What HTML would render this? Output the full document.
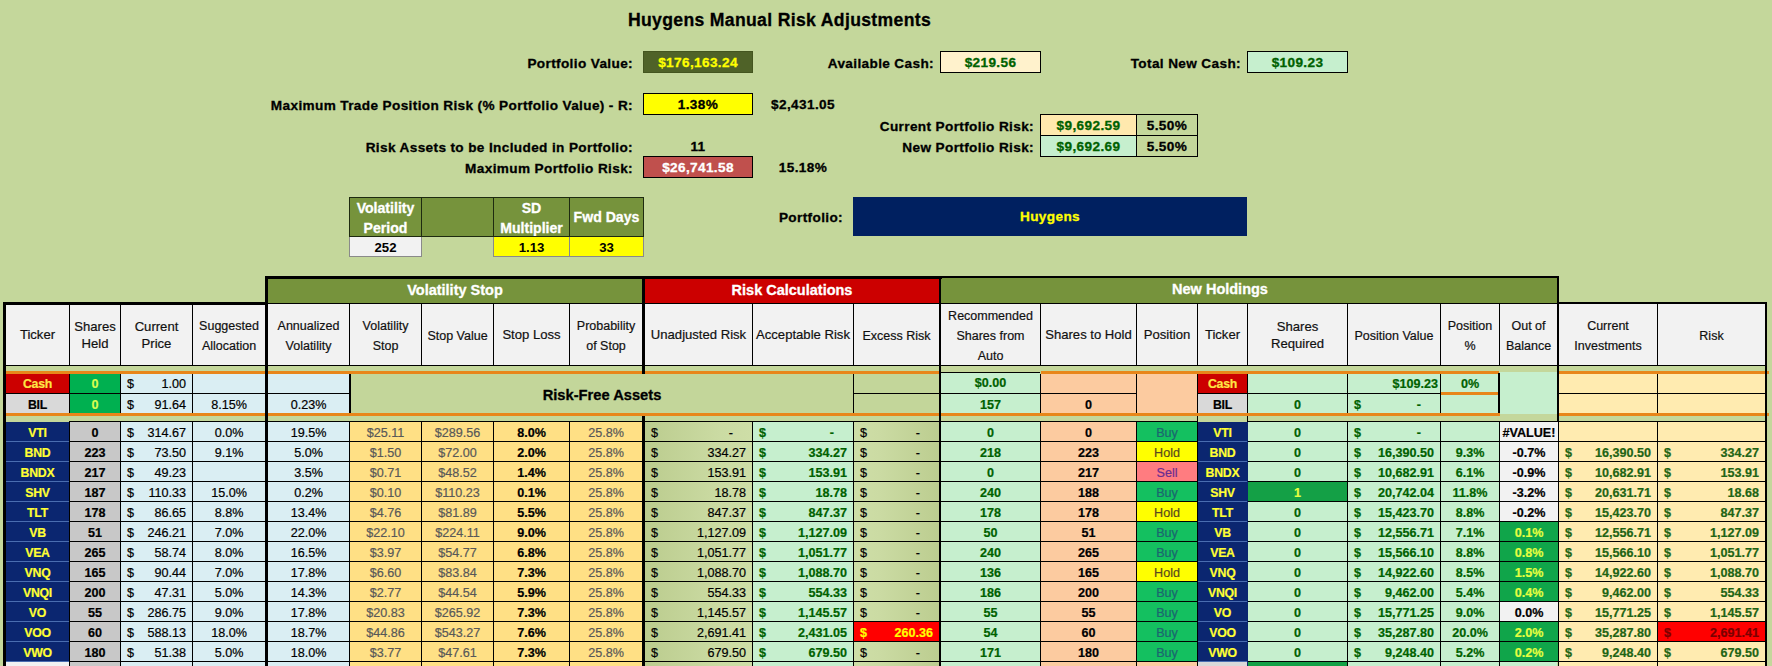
<!DOCTYPE html>
<html><head><meta charset="utf-8"><title>Huygens Manual Risk Adjustments</title><style>
html,body{margin:0;padding:0}
body{width:1772px;height:666px;overflow:hidden;background:#C4D79B;position:relative;font-family:"Liberation Sans",sans-serif}
div{position:absolute;box-sizing:content-box;white-space:nowrap;overflow:hidden}
.lab{font-weight:bold;letter-spacing:0.37px;overflow:visible}
.vb{font-weight:bold;text-align:center;letter-spacing:0.37px}
.mh{background:#76933C;border:1px solid #1e2a10;color:#fff;font-weight:bold;font-size:14.1px;display:flex;align-items:center;justify-content:center;text-align:center;line-height:20px;margin:-1px 0 0 0;padding:0}
.mh span{display:block}.mh span.two{padding-top:2px}
.mv{border:1px solid #8a8a8a;border-top:none;font-weight:bold;font-size:13.2px;text-align:center;line-height:21px;margin-left:0;padding-right:0}
.gh{color:#fff;font-weight:bold;font-size:14.5px;text-align:center;line-height:22px}
.ch{display:flex;align-items:center;justify-content:center;text-align:center;font-size:12.5px;line-height:20px;color:#111;padding-top:2px;margin-top:-1px}
.ch span{display:block}.ch.t{line-height:17px;font-size:13.1px;padding-top:0;margin-top:0}
.c,.a,.r{font-size:12.6px;line-height:22px;color:#000}
.c{text-align:center}
.r{text-align:right;padding-right:2px;margin-left:-2px}
.b{font-weight:bold}.tk{font-size:12.3px;letter-spacing:-0.25px}
.g{color:#585858}
.a i{font-style:normal;position:absolute;top:0}
.a .d{left:6px}
.a .n{right:6px}
.a .m{right:19px}
.lab,.vb,.mh,.gh,.rfa{-webkit-text-stroke:0.3px}
.c,.a,.r,.ch{-webkit-text-stroke:0.2px}
.rfa{font-weight:bold;font-size:14.7px;text-align:center;line-height:42px;color:#000}
</style></head><body>
<div class="lab" style="left:579.5px;width:400px;text-align:center;top:10px;height:20px;line-height:20px;font-size:17.6px;color:#000;letter-spacing:0.34px;">Huygens Manual Risk Adjustments</div>
<div class="lab" style="right:1139px;top:53.5px;height:20px;line-height:20px;font-size:13.6px;color:#000;">Portfolio Value:</div>
<div class="vb" style="left:643px;top:51px;width:108px;height:20px;line-height:22px;background:#4F6228;border:1px solid #44551f;color:#FFFF00;font-size:13.6px;">$176,163.24</div>
<div class="lab" style="right:838px;top:53.5px;height:20px;line-height:20px;font-size:13.6px;color:#000;">Available Cash:</div>
<div class="vb" style="left:940px;top:51px;width:99px;height:20px;line-height:22px;background:#FFF2CC;border:1px solid #000;color:#006100;font-size:13.6px;">$219.56</div>
<div class="lab" style="right:531px;top:53.5px;height:20px;line-height:20px;font-size:13.6px;color:#000;">Total New Cash:</div>
<div class="vb" style="left:1247px;top:51px;width:99px;height:20px;line-height:22px;background:#C6EFCE;border:1px solid #000;color:#006100;font-size:13.6px;">$109.23</div>
<div class="lab" style="right:1139px;top:95.5px;height:20px;line-height:20px;font-size:13.6px;color:#000;">Maximum Trade Position Risk (% Portfolio Value) - R:</div>
<div class="vb" style="left:643px;top:93px;width:108px;height:20px;line-height:22px;background:#FFFF00;border:1px solid #000;color:#000;font-size:13.6px;">1.38%</div>
<div class="lab" style="left:603px;width:400px;text-align:center;top:95px;height:20px;line-height:20px;font-size:13.6px;color:#000;">$2,431.05</div>
<div class="lab" style="right:738px;top:116.5px;height:20px;line-height:20px;font-size:13.6px;color:#000;">Current Portfolio Risk:</div>
<div class="lab" style="right:738px;top:137.5px;height:20px;line-height:20px;font-size:13.6px;color:#000;">New Portfolio Risk:</div>
<div class="vb" style="left:1040px;top:114px;width:95px;height:20px;line-height:22px;background:#FFE9AE;border:1px solid #000;color:#006100;font-size:13.6px;">$9,692.59</div>
<div class="vb" style="left:1136px;top:114px;width:60px;height:20px;line-height:22px;background:#C4D79B;border:1px solid #000;color:#000;font-size:13.6px;">5.50%</div>
<div class="vb" style="left:1040px;top:135px;width:95px;height:20px;line-height:22px;background:#C6EFCE;border:1px solid #000;color:#006100;font-size:13.6px;">$9,692.69</div>
<div class="vb" style="left:1136px;top:135px;width:60px;height:20px;line-height:22px;background:#C4D79B;border:1px solid #000;color:#000;font-size:13.6px;">5.50%</div>
<div class="lab" style="right:1139px;top:137.5px;height:20px;line-height:20px;font-size:13.6px;color:#000;">Risk Assets to be Included in Portfolio:</div>
<div class="lab" style="left:498px;width:400px;text-align:center;top:137px;height:20px;line-height:20px;font-size:13.6px;color:#000;">11</div>
<div class="lab" style="right:1139px;top:158.5px;height:20px;line-height:20px;font-size:13.6px;color:#000;">Maximum Portfolio Risk:</div>
<div class="vb" style="left:643px;top:156px;width:108px;height:20px;line-height:22px;background:#C0504D;border:1px solid #000;color:#fff;font-size:13.6px;">$26,741.58</div>
<div class="lab" style="left:603px;width:400px;text-align:center;top:158px;height:20px;line-height:20px;font-size:13.6px;color:#000;">15.18%</div>
<div class="mh" style="left:349px;top:198px;width:71px;height:38px;"><span class=two>Volatility<br>Period</span></div>
<div class="mh" style="left:421px;top:198px;width:71px;height:38px;"><span></span></div>
<div class="mh" style="left:493px;top:198px;width:75px;height:38px;"><span class=two>SD<br>Multiplier</span></div>
<div class="mh" style="left:569px;top:198px;width:73px;height:38px;"><span>Fwd Days</span></div>
<div class="mv" style="left:349px;top:237px;width:71px;height:19px;background:#F2F2F2">252</div>
<div class="mv" style="left:493px;top:237px;width:75px;height:19px;background:#FFFF00">1.13</div>
<div class="mv" style="left:569px;top:237px;width:73px;height:19px;background:#FFFF00">33</div>
<div class="lab" style="right:929px;top:207.5px;height:20px;line-height:20px;font-size:13.6px;color:#000;">Portfolio:</div>
<div class="vb" style="left:853px;top:197px;width:394px;height:39px;line-height:39px;background:#002060;color:#FFFF00;font-size:13.6px">Huygens</div>
<div class="gh" style="left:268px;top:279px;width:374px;height:24px;background:#76933C;">Volatility Stop</div>
<div class="gh" style="left:645px;top:279px;width:294px;height:24px;background:#CC0000;">Risk Calculations</div>
<div class="gh" style="left:941px;top:278px;width:616px;height:25px;background:#76933C;text-indent:-58px;">New Holdings</div>
<div class="ch t" style="left:6px;top:304px;width:63px;height:61px;background:#F2F2F2;"><span>Ticker</span></div>
<div class="ch t" style="left:70px;top:304px;width:50px;height:61px;background:#F2F2F2;"><span>Shares<br>Held</span></div>
<div class="ch t" style="left:121px;top:304px;width:71px;height:61px;background:#F2F2F2;"><span>Current<br>Price</span></div>
<div class="ch" style="left:193px;top:304px;width:72px;height:61px;background:#F2F2F2;"><span>Suggested<br>Allocation</span></div>
<div class="ch" style="left:268px;top:304px;width:81px;height:61px;background:#F2F2F2;"><span>Annualized<br>Volatility</span></div>
<div class="ch" style="left:350px;top:304px;width:71px;height:61px;background:#F2F2F2;"><span>Volatility<br>Stop</span></div>
<div class="ch" style="left:422px;top:304px;width:71px;height:61px;background:#F2F2F2;"><span>Stop Value</span></div>
<div class="ch t" style="left:494px;top:304px;width:75px;height:61px;background:#F2F2F2;"><span>Stop Loss</span></div>
<div class="ch" style="left:570px;top:304px;width:72px;height:61px;background:#F2F2F2;"><span>Probability<br>of Stop</span></div>
<div class="ch t" style="left:645px;top:304px;width:107px;height:61px;background:#F2F2F2;"><span>Unadjusted Risk</span></div>
<div class="ch t" style="left:753px;top:304px;width:100px;height:61px;background:#F2F2F2;"><span>Acceptable Risk</span></div>
<div class="ch" style="left:854px;top:304px;width:85px;height:61px;background:#F2F2F2;"><span>Excess Risk</span></div>
<div class="ch" style="left:941px;top:304px;width:99px;height:61px;background:#F2F2F2;"><span>Recommended<br>Shares from<br>Auto</span></div>
<div class="ch t" style="left:1041px;top:304px;width:95px;height:61px;background:#F2F2F2;"><span>Shares to Hold</span></div>
<div class="ch t" style="left:1137px;top:304px;width:60px;height:61px;background:#F2F2F2;"><span>Position</span></div>
<div class="ch t" style="left:1198px;top:304px;width:49px;height:61px;background:#F2F2F2;"><span>Ticker</span></div>
<div class="ch t" style="left:1248px;top:304px;width:99px;height:61px;background:#F2F2F2;"><span>Shares<br>Required</span></div>
<div class="ch" style="left:1348px;top:304px;width:92px;height:61px;background:#F2F2F2;"><span>Position Value</span></div>
<div class="ch" style="left:1441px;top:304px;width:58px;height:61px;background:#F2F2F2;"><span>Position<br>%</span></div>
<div class="ch" style="left:1500px;top:304px;width:57px;height:61px;background:#F2F2F2;"><span>Out of<br>Balance</span></div>
<div class="ch" style="left:1559px;top:304px;width:98px;height:61px;background:#F2F2F2;"><span>Current<br>Investments</span></div>
<div class="ch" style="left:1658px;top:304px;width:107px;height:61px;background:#F2F2F2;"><span>Risk</span></div>
<div class="c b tk" style="left:6px;top:374px;width:63px;height:19px;background:#CC0000;color:#FFE545;line-height:20px;">Cash</div>
<div class="c b" style="left:70px;top:374px;width:50px;height:19px;background:#00B050;color:#D8FF4F;line-height:20px;">0</div>
<div class="a" style="left:121px;top:374px;width:71px;height:19px;background:#DAEEF3;line-height:20px;"><i class="d">$</i><i class="n">1.00</i></div>
<div style="left:193px;top:374px;width:72px;height:19px;background:#DAEEF3;"></div>
<div style="left:268px;top:374px;width:81px;height:19px;background:#DAEEF3;"></div>
<div style="left:854px;top:374px;width:85px;height:19px;background:#C3D69A;"></div>
<div class="c b" style="left:941px;top:373px;width:99px;height:20px;background:#C6EFCE;color:#006100;line-height:20px;">$0.00</div>
<div class="l" style="left:941px;top:372px;width:99px;height:1px;background:#000"></div>
<div style="left:1041px;top:374px;width:95px;height:19px;background:#FCCBA0;"></div>
<div style="left:1137px;top:374px;width:60px;height:39px;background:#FCCBA0;"></div>
<div class="c b tk" style="left:1198px;top:374px;width:49px;height:19px;background:#CC0000;color:#FFE545;line-height:20px;">Cash</div>
<div style="left:1248px;top:374px;width:99px;height:19px;background:#C6EFCE;"></div>
<div class="r b" style="left:1348px;top:374px;width:92px;height:19px;background:#C6EFCE;color:#006100;line-height:20px;">$109.23</div>
<div class="c b" style="left:1441px;top:374px;width:58px;height:19px;background:#C6EFCE;color:#006100;line-height:20px;">0%</div>
<div style="left:1500px;top:372px;width:57px;height:42px;background:#C6EFCE;"></div>
<div style="left:1559px;top:374px;width:98px;height:19px;background:#FFEBB0;"></div>
<div style="left:1658px;top:374px;width:107px;height:19px;background:#FFEBB0;"></div>
<div class="c b tk" style="left:6px;top:394px;width:63px;height:19px;background:#D9D9D9;">BIL</div>
<div class="c b" style="left:70px;top:394px;width:50px;height:19px;background:#00B050;color:#D8FF4F">0</div>
<div class="a" style="left:121px;top:394px;width:71px;height:19px;background:#DAEEF3;"><i class="d">$</i><i class="n">91.64</i></div>
<div class="c" style="left:193px;top:394px;width:72px;height:19px;background:#DAEEF3;">8.15%</div>
<div class="c" style="left:268px;top:394px;width:81px;height:19px;background:#DAEEF3;">0.23%</div>
<div style="left:854px;top:394px;width:85px;height:19px;background:#C3D69A;"></div>
<div class="c b" style="left:941px;top:394px;width:99px;height:19px;background:#C6EFCE;color:#006100">157</div>
<div class="c b" style="left:1041px;top:394px;width:95px;height:19px;background:#FCCBA0;">0</div>
<div class="c b tk" style="left:1198px;top:394px;width:49px;height:19px;background:#D9D9D9;">BIL</div>
<div class="c b" style="left:1248px;top:394px;width:99px;height:19px;background:#C6EFCE;color:#006100">0</div>
<div class="a b" style="left:1348px;top:394px;width:92px;height:19px;background:#C6EFCE;color:#006100"><i class="d">$</i><i class="m">-</i></div>
<div style="left:1441px;top:394px;width:58px;height:19px;background:#C6EFCE;"></div>
<div style="left:1559px;top:394px;width:98px;height:19px;background:#FFEBB0;"></div>
<div style="left:1658px;top:394px;width:107px;height:19px;background:#FFEBB0;"></div>
<div class="rfa" style="left:351px;top:374px;width:502px;height:39px;background:#C3D69A;">Risk-Free Assets</div>
<div class="c b tk" style="left:6px;top:422px;width:63px;height:19px;background:#0B2670;color:#FFFF33">VTI</div>
<div class="c b" style="left:70px;top:422px;width:50px;height:19px;background:#C8C8C8;">0</div>
<div class="a" style="left:121px;top:422px;width:71px;height:19px;background:#DAEEF3;"><i class="d">$</i><i class="n">314.67</i></div>
<div class="c" style="left:193px;top:422px;width:72px;height:19px;background:#DAEEF3;">0.0%</div>
<div class="c" style="left:268px;top:422px;width:81px;height:19px;background:#DAEEF3;">19.5%</div>
<div class="c g" style="left:350px;top:422px;width:71px;height:19px;background:#FFE085;">$25.11</div>
<div class="c g" style="left:422px;top:422px;width:71px;height:19px;background:#FFE085;">$289.56</div>
<div class="c b" style="left:494px;top:422px;width:75px;height:19px;background:#FFE085;">8.0%</div>
<div class="c g" style="left:570px;top:422px;width:72px;height:19px;background:#FFE085;">25.8%</div>
<div class="a ar" style="left:645px;top:422px;width:107px;height:19px;background:linear-gradient(90deg,#bbcc8e,#cbdba3 70%,#cedea7);"><i class="d">$</i><i class="m">-</i></div>
<div class="a b" style="left:753px;top:422px;width:100px;height:19px;background:#C6EFCE;color:#006100"><i class="d">$</i><i class="m">-</i></div>
<div class="a" style="left:854px;top:422px;width:85px;height:19px;background:linear-gradient(90deg,#cedea7,#cbdba3 30%,#bccd90);"><i class="d">$</i><i class="m">-</i></div>
<div class="c b" style="left:941px;top:422px;width:99px;height:19px;background:#C6EFCE;color:#006100">0</div>
<div class="c b" style="left:1041px;top:422px;width:95px;height:19px;background:#FCCBA0;">0</div>
<div class="c" style="left:1137px;top:422px;width:60px;height:19px;background:#14C060;color:#1C6670">Buy</div>
<div class="c b tk" style="left:1198px;top:422px;width:49px;height:19px;background:#0B2670;color:#FFFF33">VTI</div>
<div class="c b" style="left:1248px;top:422px;width:99px;height:19px;background:#C6EFCE;color:#006100">0</div>
<div class="a b" style="left:1348px;top:422px;width:92px;height:19px;background:#C6EFCE;color:#006100"><i class="d">$</i><i class="m">-</i></div>
<div class="c b" style="left:1441px;top:422px;width:58px;height:19px;background:#C6EFCE;color:#006100"></div>
<div class="c b" style="left:1500px;top:422px;width:58px;height:19px;background:#F2F2F2;">#VALUE!</div>
<div class="a b" style="left:1559px;top:422px;width:98px;height:19px;background:#FFEBB0;color:#1E6414"></div>
<div class="a b" style="left:1658px;top:422px;width:107px;height:19px;background:#FFEBB0;color:#1E6414"></div>
<div class="c b tk" style="left:6px;top:442px;width:63px;height:19px;background:#0B2670;color:#FFFF33">BND</div>
<div class="c b" style="left:70px;top:442px;width:50px;height:19px;background:#C8C8C8;">223</div>
<div class="a" style="left:121px;top:442px;width:71px;height:19px;background:#DAEEF3;"><i class="d">$</i><i class="n">73.50</i></div>
<div class="c" style="left:193px;top:442px;width:72px;height:19px;background:#DAEEF3;">9.1%</div>
<div class="c" style="left:268px;top:442px;width:81px;height:19px;background:#DAEEF3;">5.0%</div>
<div class="c g" style="left:350px;top:442px;width:71px;height:19px;background:#FFE085;">$1.50</div>
<div class="c g" style="left:422px;top:442px;width:71px;height:19px;background:#FFE085;">$72.00</div>
<div class="c b" style="left:494px;top:442px;width:75px;height:19px;background:#FFE085;">2.0%</div>
<div class="c g" style="left:570px;top:442px;width:72px;height:19px;background:#FFE085;">25.8%</div>
<div class="a ar" style="left:645px;top:442px;width:107px;height:19px;background:linear-gradient(90deg,#bbcc8e,#cbdba3 70%,#cedea7);"><i class="d">$</i><i class="n">334.27</i></div>
<div class="a b" style="left:753px;top:442px;width:100px;height:19px;background:#C6EFCE;color:#006100"><i class="d">$</i><i class="n">334.27</i></div>
<div class="a" style="left:854px;top:442px;width:85px;height:19px;background:linear-gradient(90deg,#cedea7,#cbdba3 30%,#bccd90);"><i class="d">$</i><i class="m">-</i></div>
<div class="c b" style="left:941px;top:442px;width:99px;height:19px;background:#C6EFCE;color:#006100">218</div>
<div class="c b" style="left:1041px;top:442px;width:95px;height:19px;background:#FCCBA0;">223</div>
<div class="c" style="left:1137px;top:442px;width:60px;height:19px;background:#FFFF00;color:#5a4a1e">Hold</div>
<div class="c b tk" style="left:1198px;top:442px;width:49px;height:19px;background:#0B2670;color:#FFFF33">BND</div>
<div class="c b" style="left:1248px;top:442px;width:99px;height:19px;background:#C6EFCE;color:#006100">0</div>
<div class="a b" style="left:1348px;top:442px;width:92px;height:19px;background:#C6EFCE;color:#006100"><i class="d">$</i><i class="n">16,390.50</i></div>
<div class="c b" style="left:1441px;top:442px;width:58px;height:19px;background:#C6EFCE;color:#006100">9.3%</div>
<div class="c b" style="left:1500px;top:442px;width:58px;height:19px;background:#F2F2F2;">-0.7%</div>
<div class="a b" style="left:1559px;top:442px;width:98px;height:19px;background:#FFEBB0;color:#1E6414"><i class="d">$</i><i class="n">16,390.50</i></div>
<div class="a b" style="left:1658px;top:442px;width:107px;height:19px;background:#FFEBB0;color:#1E6414"><i class="d">$</i><i class="n">334.27</i></div>
<div class="c b tk" style="left:6px;top:462px;width:63px;height:19px;background:#0B2670;color:#FFFF33">BNDX</div>
<div class="c b" style="left:70px;top:462px;width:50px;height:19px;background:#C8C8C8;">217</div>
<div class="a" style="left:121px;top:462px;width:71px;height:19px;background:#DAEEF3;"><i class="d">$</i><i class="n">49.23</i></div>
<div class="c" style="left:193px;top:462px;width:72px;height:19px;background:#DAEEF3;"></div>
<div class="c" style="left:268px;top:462px;width:81px;height:19px;background:#DAEEF3;">3.5%</div>
<div class="c g" style="left:350px;top:462px;width:71px;height:19px;background:#FFE085;">$0.71</div>
<div class="c g" style="left:422px;top:462px;width:71px;height:19px;background:#FFE085;">$48.52</div>
<div class="c b" style="left:494px;top:462px;width:75px;height:19px;background:#FFE085;">1.4%</div>
<div class="c g" style="left:570px;top:462px;width:72px;height:19px;background:#FFE085;">25.8%</div>
<div class="a ar" style="left:645px;top:462px;width:107px;height:19px;background:linear-gradient(90deg,#bbcc8e,#cbdba3 70%,#cedea7);"><i class="d">$</i><i class="n">153.91</i></div>
<div class="a b" style="left:753px;top:462px;width:100px;height:19px;background:#C6EFCE;color:#006100"><i class="d">$</i><i class="n">153.91</i></div>
<div class="a" style="left:854px;top:462px;width:85px;height:19px;background:linear-gradient(90deg,#cedea7,#cbdba3 30%,#bccd90);"><i class="d">$</i><i class="m">-</i></div>
<div class="c b" style="left:941px;top:462px;width:99px;height:19px;background:#C6EFCE;color:#006100">0</div>
<div class="c b" style="left:1041px;top:462px;width:95px;height:19px;background:#FCCBA0;">217</div>
<div class="c" style="left:1137px;top:462px;width:60px;height:19px;background:#FF7C80;color:#6A2C91">Sell</div>
<div class="c b tk" style="left:1198px;top:462px;width:49px;height:19px;background:#0B2670;color:#FFFF33">BNDX</div>
<div class="c b" style="left:1248px;top:462px;width:99px;height:19px;background:#C6EFCE;color:#006100">0</div>
<div class="a b" style="left:1348px;top:462px;width:92px;height:19px;background:#C6EFCE;color:#006100"><i class="d">$</i><i class="n">10,682.91</i></div>
<div class="c b" style="left:1441px;top:462px;width:58px;height:19px;background:#C6EFCE;color:#006100">6.1%</div>
<div class="c b" style="left:1500px;top:462px;width:58px;height:19px;background:#F2F2F2;">-0.9%</div>
<div class="a b" style="left:1559px;top:462px;width:98px;height:19px;background:#FFEBB0;color:#1E6414"><i class="d">$</i><i class="n">10,682.91</i></div>
<div class="a b" style="left:1658px;top:462px;width:107px;height:19px;background:#FFEBB0;color:#1E6414"><i class="d">$</i><i class="n">153.91</i></div>
<div class="c b tk" style="left:6px;top:482px;width:63px;height:19px;background:#0B2670;color:#FFFF33">SHV</div>
<div class="c b" style="left:70px;top:482px;width:50px;height:19px;background:#C8C8C8;">187</div>
<div class="a" style="left:121px;top:482px;width:71px;height:19px;background:#DAEEF3;"><i class="d">$</i><i class="n">110.33</i></div>
<div class="c" style="left:193px;top:482px;width:72px;height:19px;background:#DAEEF3;">15.0%</div>
<div class="c" style="left:268px;top:482px;width:81px;height:19px;background:#DAEEF3;">0.2%</div>
<div class="c g" style="left:350px;top:482px;width:71px;height:19px;background:#FFE085;">$0.10</div>
<div class="c g" style="left:422px;top:482px;width:71px;height:19px;background:#FFE085;">$110.23</div>
<div class="c b" style="left:494px;top:482px;width:75px;height:19px;background:#FFE085;">0.1%</div>
<div class="c g" style="left:570px;top:482px;width:72px;height:19px;background:#FFE085;">25.8%</div>
<div class="a ar" style="left:645px;top:482px;width:107px;height:19px;background:linear-gradient(90deg,#bbcc8e,#cbdba3 70%,#cedea7);"><i class="d">$</i><i class="n">18.78</i></div>
<div class="a b" style="left:753px;top:482px;width:100px;height:19px;background:#C6EFCE;color:#006100"><i class="d">$</i><i class="n">18.78</i></div>
<div class="a" style="left:854px;top:482px;width:85px;height:19px;background:linear-gradient(90deg,#cedea7,#cbdba3 30%,#bccd90);"><i class="d">$</i><i class="m">-</i></div>
<div class="c b" style="left:941px;top:482px;width:99px;height:19px;background:#C6EFCE;color:#006100">240</div>
<div class="c b" style="left:1041px;top:482px;width:95px;height:19px;background:#FCCBA0;">188</div>
<div class="c" style="left:1137px;top:482px;width:60px;height:19px;background:#14C060;color:#1C6670">Buy</div>
<div class="c b tk" style="left:1198px;top:482px;width:49px;height:19px;background:#0B2670;color:#FFFF33">SHV</div>
<div class="c b" style="left:1248px;top:482px;width:99px;height:19px;background:#14A046;color:#E6FF40">1</div>
<div class="a b" style="left:1348px;top:482px;width:92px;height:19px;background:#C6EFCE;color:#006100"><i class="d">$</i><i class="n">20,742.04</i></div>
<div class="c b" style="left:1441px;top:482px;width:58px;height:19px;background:#C6EFCE;color:#006100">11.8%</div>
<div class="c b" style="left:1500px;top:482px;width:58px;height:19px;background:#F2F2F2;">-3.2%</div>
<div class="a b" style="left:1559px;top:482px;width:98px;height:19px;background:#FFEBB0;color:#1E6414"><i class="d">$</i><i class="n">20,631.71</i></div>
<div class="a b" style="left:1658px;top:482px;width:107px;height:19px;background:#FFEBB0;color:#1E6414"><i class="d">$</i><i class="n">18.68</i></div>
<div class="c b tk" style="left:6px;top:502px;width:63px;height:19px;background:#0B2670;color:#FFFF33">TLT</div>
<div class="c b" style="left:70px;top:502px;width:50px;height:19px;background:#C8C8C8;">178</div>
<div class="a" style="left:121px;top:502px;width:71px;height:19px;background:#DAEEF3;"><i class="d">$</i><i class="n">86.65</i></div>
<div class="c" style="left:193px;top:502px;width:72px;height:19px;background:#DAEEF3;">8.8%</div>
<div class="c" style="left:268px;top:502px;width:81px;height:19px;background:#DAEEF3;">13.4%</div>
<div class="c g" style="left:350px;top:502px;width:71px;height:19px;background:#FFE085;">$4.76</div>
<div class="c g" style="left:422px;top:502px;width:71px;height:19px;background:#FFE085;">$81.89</div>
<div class="c b" style="left:494px;top:502px;width:75px;height:19px;background:#FFE085;">5.5%</div>
<div class="c g" style="left:570px;top:502px;width:72px;height:19px;background:#FFE085;">25.8%</div>
<div class="a ar" style="left:645px;top:502px;width:107px;height:19px;background:linear-gradient(90deg,#bbcc8e,#cbdba3 70%,#cedea7);"><i class="d">$</i><i class="n">847.37</i></div>
<div class="a b" style="left:753px;top:502px;width:100px;height:19px;background:#C6EFCE;color:#006100"><i class="d">$</i><i class="n">847.37</i></div>
<div class="a" style="left:854px;top:502px;width:85px;height:19px;background:linear-gradient(90deg,#cedea7,#cbdba3 30%,#bccd90);"><i class="d">$</i><i class="m">-</i></div>
<div class="c b" style="left:941px;top:502px;width:99px;height:19px;background:#C6EFCE;color:#006100">178</div>
<div class="c b" style="left:1041px;top:502px;width:95px;height:19px;background:#FCCBA0;">178</div>
<div class="c" style="left:1137px;top:502px;width:60px;height:19px;background:#FFFF00;color:#5a4a1e">Hold</div>
<div class="c b tk" style="left:1198px;top:502px;width:49px;height:19px;background:#0B2670;color:#FFFF33">TLT</div>
<div class="c b" style="left:1248px;top:502px;width:99px;height:19px;background:#C6EFCE;color:#006100">0</div>
<div class="a b" style="left:1348px;top:502px;width:92px;height:19px;background:#C6EFCE;color:#006100"><i class="d">$</i><i class="n">15,423.70</i></div>
<div class="c b" style="left:1441px;top:502px;width:58px;height:19px;background:#C6EFCE;color:#006100">8.8%</div>
<div class="c b" style="left:1500px;top:502px;width:58px;height:19px;background:#F2F2F2;">-0.2%</div>
<div class="a b" style="left:1559px;top:502px;width:98px;height:19px;background:#FFEBB0;color:#1E6414"><i class="d">$</i><i class="n">15,423.70</i></div>
<div class="a b" style="left:1658px;top:502px;width:107px;height:19px;background:#FFEBB0;color:#1E6414"><i class="d">$</i><i class="n">847.37</i></div>
<div class="c b tk" style="left:6px;top:522px;width:63px;height:19px;background:#0B2670;color:#FFFF33">VB</div>
<div class="c b" style="left:70px;top:522px;width:50px;height:19px;background:#C8C8C8;">51</div>
<div class="a" style="left:121px;top:522px;width:71px;height:19px;background:#DAEEF3;"><i class="d">$</i><i class="n">246.21</i></div>
<div class="c" style="left:193px;top:522px;width:72px;height:19px;background:#DAEEF3;">7.0%</div>
<div class="c" style="left:268px;top:522px;width:81px;height:19px;background:#DAEEF3;">22.0%</div>
<div class="c g" style="left:350px;top:522px;width:71px;height:19px;background:#FFE085;">$22.10</div>
<div class="c g" style="left:422px;top:522px;width:71px;height:19px;background:#FFE085;">$224.11</div>
<div class="c b" style="left:494px;top:522px;width:75px;height:19px;background:#FFE085;">9.0%</div>
<div class="c g" style="left:570px;top:522px;width:72px;height:19px;background:#FFE085;">25.8%</div>
<div class="a ar" style="left:645px;top:522px;width:107px;height:19px;background:linear-gradient(90deg,#bbcc8e,#cbdba3 70%,#cedea7);"><i class="d">$</i><i class="n">1,127.09</i></div>
<div class="a b" style="left:753px;top:522px;width:100px;height:19px;background:#C6EFCE;color:#006100"><i class="d">$</i><i class="n">1,127.09</i></div>
<div class="a" style="left:854px;top:522px;width:85px;height:19px;background:linear-gradient(90deg,#cedea7,#cbdba3 30%,#bccd90);"><i class="d">$</i><i class="m">-</i></div>
<div class="c b" style="left:941px;top:522px;width:99px;height:19px;background:#C6EFCE;color:#006100">50</div>
<div class="c b" style="left:1041px;top:522px;width:95px;height:19px;background:#FCCBA0;">51</div>
<div class="c" style="left:1137px;top:522px;width:60px;height:19px;background:#14C060;color:#1C6670">Buy</div>
<div class="c b tk" style="left:1198px;top:522px;width:49px;height:19px;background:#0B2670;color:#FFFF33">VB</div>
<div class="c b" style="left:1248px;top:522px;width:99px;height:19px;background:#C6EFCE;color:#006100">0</div>
<div class="a b" style="left:1348px;top:522px;width:92px;height:19px;background:#C6EFCE;color:#006100"><i class="d">$</i><i class="n">12,556.71</i></div>
<div class="c b" style="left:1441px;top:522px;width:58px;height:19px;background:#C6EFCE;color:#006100">7.1%</div>
<div class="c b" style="left:1500px;top:522px;width:58px;height:19px;background:#10A54A;color:#E6FF40">0.1%</div>
<div class="a b" style="left:1559px;top:522px;width:98px;height:19px;background:#FFEBB0;color:#1E6414"><i class="d">$</i><i class="n">12,556.71</i></div>
<div class="a b" style="left:1658px;top:522px;width:107px;height:19px;background:#FFEBB0;color:#1E6414"><i class="d">$</i><i class="n">1,127.09</i></div>
<div class="c b tk" style="left:6px;top:542px;width:63px;height:19px;background:#0B2670;color:#FFFF33">VEA</div>
<div class="c b" style="left:70px;top:542px;width:50px;height:19px;background:#C8C8C8;">265</div>
<div class="a" style="left:121px;top:542px;width:71px;height:19px;background:#DAEEF3;"><i class="d">$</i><i class="n">58.74</i></div>
<div class="c" style="left:193px;top:542px;width:72px;height:19px;background:#DAEEF3;">8.0%</div>
<div class="c" style="left:268px;top:542px;width:81px;height:19px;background:#DAEEF3;">16.5%</div>
<div class="c g" style="left:350px;top:542px;width:71px;height:19px;background:#FFE085;">$3.97</div>
<div class="c g" style="left:422px;top:542px;width:71px;height:19px;background:#FFE085;">$54.77</div>
<div class="c b" style="left:494px;top:542px;width:75px;height:19px;background:#FFE085;">6.8%</div>
<div class="c g" style="left:570px;top:542px;width:72px;height:19px;background:#FFE085;">25.8%</div>
<div class="a ar" style="left:645px;top:542px;width:107px;height:19px;background:linear-gradient(90deg,#bbcc8e,#cbdba3 70%,#cedea7);"><i class="d">$</i><i class="n">1,051.77</i></div>
<div class="a b" style="left:753px;top:542px;width:100px;height:19px;background:#C6EFCE;color:#006100"><i class="d">$</i><i class="n">1,051.77</i></div>
<div class="a" style="left:854px;top:542px;width:85px;height:19px;background:linear-gradient(90deg,#cedea7,#cbdba3 30%,#bccd90);"><i class="d">$</i><i class="m">-</i></div>
<div class="c b" style="left:941px;top:542px;width:99px;height:19px;background:#C6EFCE;color:#006100">240</div>
<div class="c b" style="left:1041px;top:542px;width:95px;height:19px;background:#FCCBA0;">265</div>
<div class="c" style="left:1137px;top:542px;width:60px;height:19px;background:#14C060;color:#1C6670">Buy</div>
<div class="c b tk" style="left:1198px;top:542px;width:49px;height:19px;background:#0B2670;color:#FFFF33">VEA</div>
<div class="c b" style="left:1248px;top:542px;width:99px;height:19px;background:#C6EFCE;color:#006100">0</div>
<div class="a b" style="left:1348px;top:542px;width:92px;height:19px;background:#C6EFCE;color:#006100"><i class="d">$</i><i class="n">15,566.10</i></div>
<div class="c b" style="left:1441px;top:542px;width:58px;height:19px;background:#C6EFCE;color:#006100">8.8%</div>
<div class="c b" style="left:1500px;top:542px;width:58px;height:19px;background:#10A54A;color:#E6FF40">0.8%</div>
<div class="a b" style="left:1559px;top:542px;width:98px;height:19px;background:#FFEBB0;color:#1E6414"><i class="d">$</i><i class="n">15,566.10</i></div>
<div class="a b" style="left:1658px;top:542px;width:107px;height:19px;background:#FFEBB0;color:#1E6414"><i class="d">$</i><i class="n">1,051.77</i></div>
<div class="c b tk" style="left:6px;top:562px;width:63px;height:19px;background:#0B2670;color:#FFFF33">VNQ</div>
<div class="c b" style="left:70px;top:562px;width:50px;height:19px;background:#C8C8C8;">165</div>
<div class="a" style="left:121px;top:562px;width:71px;height:19px;background:#DAEEF3;"><i class="d">$</i><i class="n">90.44</i></div>
<div class="c" style="left:193px;top:562px;width:72px;height:19px;background:#DAEEF3;">7.0%</div>
<div class="c" style="left:268px;top:562px;width:81px;height:19px;background:#DAEEF3;">17.8%</div>
<div class="c g" style="left:350px;top:562px;width:71px;height:19px;background:#FFE085;">$6.60</div>
<div class="c g" style="left:422px;top:562px;width:71px;height:19px;background:#FFE085;">$83.84</div>
<div class="c b" style="left:494px;top:562px;width:75px;height:19px;background:#FFE085;">7.3%</div>
<div class="c g" style="left:570px;top:562px;width:72px;height:19px;background:#FFE085;">25.8%</div>
<div class="a ar" style="left:645px;top:562px;width:107px;height:19px;background:linear-gradient(90deg,#bbcc8e,#cbdba3 70%,#cedea7);"><i class="d">$</i><i class="n">1,088.70</i></div>
<div class="a b" style="left:753px;top:562px;width:100px;height:19px;background:#C6EFCE;color:#006100"><i class="d">$</i><i class="n">1,088.70</i></div>
<div class="a" style="left:854px;top:562px;width:85px;height:19px;background:linear-gradient(90deg,#cedea7,#cbdba3 30%,#bccd90);"><i class="d">$</i><i class="m">-</i></div>
<div class="c b" style="left:941px;top:562px;width:99px;height:19px;background:#C6EFCE;color:#006100">136</div>
<div class="c b" style="left:1041px;top:562px;width:95px;height:19px;background:#FCCBA0;">165</div>
<div class="c" style="left:1137px;top:562px;width:60px;height:19px;background:#FFFF00;color:#5a4a1e">Hold</div>
<div class="c b tk" style="left:1198px;top:562px;width:49px;height:19px;background:#0B2670;color:#FFFF33">VNQ</div>
<div class="c b" style="left:1248px;top:562px;width:99px;height:19px;background:#C6EFCE;color:#006100">0</div>
<div class="a b" style="left:1348px;top:562px;width:92px;height:19px;background:#C6EFCE;color:#006100"><i class="d">$</i><i class="n">14,922.60</i></div>
<div class="c b" style="left:1441px;top:562px;width:58px;height:19px;background:#C6EFCE;color:#006100">8.5%</div>
<div class="c b" style="left:1500px;top:562px;width:58px;height:19px;background:#10A54A;color:#E6FF40">1.5%</div>
<div class="a b" style="left:1559px;top:562px;width:98px;height:19px;background:#FFEBB0;color:#1E6414"><i class="d">$</i><i class="n">14,922.60</i></div>
<div class="a b" style="left:1658px;top:562px;width:107px;height:19px;background:#FFEBB0;color:#1E6414"><i class="d">$</i><i class="n">1,088.70</i></div>
<div class="c b tk" style="left:6px;top:582px;width:63px;height:19px;background:#0B2670;color:#FFFF33">VNQI</div>
<div class="c b" style="left:70px;top:582px;width:50px;height:19px;background:#C8C8C8;">200</div>
<div class="a" style="left:121px;top:582px;width:71px;height:19px;background:#DAEEF3;"><i class="d">$</i><i class="n">47.31</i></div>
<div class="c" style="left:193px;top:582px;width:72px;height:19px;background:#DAEEF3;">5.0%</div>
<div class="c" style="left:268px;top:582px;width:81px;height:19px;background:#DAEEF3;">14.3%</div>
<div class="c g" style="left:350px;top:582px;width:71px;height:19px;background:#FFE085;">$2.77</div>
<div class="c g" style="left:422px;top:582px;width:71px;height:19px;background:#FFE085;">$44.54</div>
<div class="c b" style="left:494px;top:582px;width:75px;height:19px;background:#FFE085;">5.9%</div>
<div class="c g" style="left:570px;top:582px;width:72px;height:19px;background:#FFE085;">25.8%</div>
<div class="a ar" style="left:645px;top:582px;width:107px;height:19px;background:linear-gradient(90deg,#bbcc8e,#cbdba3 70%,#cedea7);"><i class="d">$</i><i class="n">554.33</i></div>
<div class="a b" style="left:753px;top:582px;width:100px;height:19px;background:#C6EFCE;color:#006100"><i class="d">$</i><i class="n">554.33</i></div>
<div class="a" style="left:854px;top:582px;width:85px;height:19px;background:linear-gradient(90deg,#cedea7,#cbdba3 30%,#bccd90);"><i class="d">$</i><i class="m">-</i></div>
<div class="c b" style="left:941px;top:582px;width:99px;height:19px;background:#C6EFCE;color:#006100">186</div>
<div class="c b" style="left:1041px;top:582px;width:95px;height:19px;background:#FCCBA0;">200</div>
<div class="c" style="left:1137px;top:582px;width:60px;height:19px;background:#14C060;color:#1C6670">Buy</div>
<div class="c b tk" style="left:1198px;top:582px;width:49px;height:19px;background:#0B2670;color:#FFFF33">VNQI</div>
<div class="c b" style="left:1248px;top:582px;width:99px;height:19px;background:#C6EFCE;color:#006100">0</div>
<div class="a b" style="left:1348px;top:582px;width:92px;height:19px;background:#C6EFCE;color:#006100"><i class="d">$</i><i class="n">9,462.00</i></div>
<div class="c b" style="left:1441px;top:582px;width:58px;height:19px;background:#C6EFCE;color:#006100">5.4%</div>
<div class="c b" style="left:1500px;top:582px;width:58px;height:19px;background:#10A54A;color:#E6FF40">0.4%</div>
<div class="a b" style="left:1559px;top:582px;width:98px;height:19px;background:#FFEBB0;color:#1E6414"><i class="d">$</i><i class="n">9,462.00</i></div>
<div class="a b" style="left:1658px;top:582px;width:107px;height:19px;background:#FFEBB0;color:#1E6414"><i class="d">$</i><i class="n">554.33</i></div>
<div class="c b tk" style="left:6px;top:602px;width:63px;height:19px;background:#0B2670;color:#FFFF33">VO</div>
<div class="c b" style="left:70px;top:602px;width:50px;height:19px;background:#C8C8C8;">55</div>
<div class="a" style="left:121px;top:602px;width:71px;height:19px;background:#DAEEF3;"><i class="d">$</i><i class="n">286.75</i></div>
<div class="c" style="left:193px;top:602px;width:72px;height:19px;background:#DAEEF3;">9.0%</div>
<div class="c" style="left:268px;top:602px;width:81px;height:19px;background:#DAEEF3;">17.8%</div>
<div class="c g" style="left:350px;top:602px;width:71px;height:19px;background:#FFE085;">$20.83</div>
<div class="c g" style="left:422px;top:602px;width:71px;height:19px;background:#FFE085;">$265.92</div>
<div class="c b" style="left:494px;top:602px;width:75px;height:19px;background:#FFE085;">7.3%</div>
<div class="c g" style="left:570px;top:602px;width:72px;height:19px;background:#FFE085;">25.8%</div>
<div class="a ar" style="left:645px;top:602px;width:107px;height:19px;background:linear-gradient(90deg,#bbcc8e,#cbdba3 70%,#cedea7);"><i class="d">$</i><i class="n">1,145.57</i></div>
<div class="a b" style="left:753px;top:602px;width:100px;height:19px;background:#C6EFCE;color:#006100"><i class="d">$</i><i class="n">1,145.57</i></div>
<div class="a" style="left:854px;top:602px;width:85px;height:19px;background:linear-gradient(90deg,#cedea7,#cbdba3 30%,#bccd90);"><i class="d">$</i><i class="m">-</i></div>
<div class="c b" style="left:941px;top:602px;width:99px;height:19px;background:#C6EFCE;color:#006100">55</div>
<div class="c b" style="left:1041px;top:602px;width:95px;height:19px;background:#FCCBA0;">55</div>
<div class="c" style="left:1137px;top:602px;width:60px;height:19px;background:#14C060;color:#1C6670">Buy</div>
<div class="c b tk" style="left:1198px;top:602px;width:49px;height:19px;background:#0B2670;color:#FFFF33">VO</div>
<div class="c b" style="left:1248px;top:602px;width:99px;height:19px;background:#C6EFCE;color:#006100">0</div>
<div class="a b" style="left:1348px;top:602px;width:92px;height:19px;background:#C6EFCE;color:#006100"><i class="d">$</i><i class="n">15,771.25</i></div>
<div class="c b" style="left:1441px;top:602px;width:58px;height:19px;background:#C6EFCE;color:#006100">9.0%</div>
<div class="c b" style="left:1500px;top:602px;width:58px;height:19px;background:#F2F2F2;">0.0%</div>
<div class="a b" style="left:1559px;top:602px;width:98px;height:19px;background:#FFEBB0;color:#1E6414"><i class="d">$</i><i class="n">15,771.25</i></div>
<div class="a b" style="left:1658px;top:602px;width:107px;height:19px;background:#FFEBB0;color:#1E6414"><i class="d">$</i><i class="n">1,145.57</i></div>
<div class="c b tk" style="left:6px;top:622px;width:63px;height:19px;background:#0B2670;color:#FFFF33">VOO</div>
<div class="c b" style="left:70px;top:622px;width:50px;height:19px;background:#C8C8C8;">60</div>
<div class="a" style="left:121px;top:622px;width:71px;height:19px;background:#DAEEF3;"><i class="d">$</i><i class="n">588.13</i></div>
<div class="c" style="left:193px;top:622px;width:72px;height:19px;background:#DAEEF3;">18.0%</div>
<div class="c" style="left:268px;top:622px;width:81px;height:19px;background:#DAEEF3;">18.7%</div>
<div class="c g" style="left:350px;top:622px;width:71px;height:19px;background:#FFE085;">$44.86</div>
<div class="c g" style="left:422px;top:622px;width:71px;height:19px;background:#FFE085;">$543.27</div>
<div class="c b" style="left:494px;top:622px;width:75px;height:19px;background:#FFE085;">7.6%</div>
<div class="c g" style="left:570px;top:622px;width:72px;height:19px;background:#FFE085;">25.8%</div>
<div class="a ar" style="left:645px;top:622px;width:107px;height:19px;background:linear-gradient(90deg,#bbcc8e,#cbdba3 70%,#cedea7);"><i class="d">$</i><i class="n">2,691.41</i></div>
<div class="a b" style="left:753px;top:622px;width:100px;height:19px;background:#C6EFCE;color:#006100"><i class="d">$</i><i class="n">2,431.05</i></div>
<div class="a b ar" style="left:854px;top:622px;width:85px;height:19px;background:#FF0000;color:#FFFF00"><i class="d">$</i><i class="n">260.36</i></div>
<div class="c b" style="left:941px;top:622px;width:99px;height:19px;background:#C6EFCE;color:#006100">54</div>
<div class="c b" style="left:1041px;top:622px;width:95px;height:19px;background:#FCCBA0;">60</div>
<div class="c" style="left:1137px;top:622px;width:60px;height:19px;background:#14C060;color:#1C6670">Buy</div>
<div class="c b tk" style="left:1198px;top:622px;width:49px;height:19px;background:#0B2670;color:#FFFF33">VOO</div>
<div class="c b" style="left:1248px;top:622px;width:99px;height:19px;background:#C6EFCE;color:#006100">0</div>
<div class="a b" style="left:1348px;top:622px;width:92px;height:19px;background:#C6EFCE;color:#006100"><i class="d">$</i><i class="n">35,287.80</i></div>
<div class="c b" style="left:1441px;top:622px;width:58px;height:19px;background:#C6EFCE;color:#006100">20.0%</div>
<div class="c b" style="left:1500px;top:622px;width:58px;height:19px;background:#10A54A;color:#E6FF40">2.0%</div>
<div class="a b" style="left:1559px;top:622px;width:98px;height:19px;background:#FFEBB0;color:#1E6414"><i class="d">$</i><i class="n">35,287.80</i></div>
<div class="a b" style="left:1658px;top:622px;width:107px;height:19px;background:#FF0000;color:#7A0000"><i class="d">$</i><i class="n">2,691.41</i></div>
<div class="c b tk" style="left:6px;top:642px;width:63px;height:19px;background:#0B2670;color:#FFFF33">VWO</div>
<div class="c b" style="left:70px;top:642px;width:50px;height:19px;background:#C8C8C8;">180</div>
<div class="a" style="left:121px;top:642px;width:71px;height:19px;background:#DAEEF3;"><i class="d">$</i><i class="n">51.38</i></div>
<div class="c" style="left:193px;top:642px;width:72px;height:19px;background:#DAEEF3;">5.0%</div>
<div class="c" style="left:268px;top:642px;width:81px;height:19px;background:#DAEEF3;">18.0%</div>
<div class="c g" style="left:350px;top:642px;width:71px;height:19px;background:#FFE085;">$3.77</div>
<div class="c g" style="left:422px;top:642px;width:71px;height:19px;background:#FFE085;">$47.61</div>
<div class="c b" style="left:494px;top:642px;width:75px;height:19px;background:#FFE085;">7.3%</div>
<div class="c g" style="left:570px;top:642px;width:72px;height:19px;background:#FFE085;">25.8%</div>
<div class="a ar" style="left:645px;top:642px;width:107px;height:19px;background:linear-gradient(90deg,#bbcc8e,#cbdba3 70%,#cedea7);"><i class="d">$</i><i class="n">679.50</i></div>
<div class="a b" style="left:753px;top:642px;width:100px;height:19px;background:#C6EFCE;color:#006100"><i class="d">$</i><i class="n">679.50</i></div>
<div class="a" style="left:854px;top:642px;width:85px;height:19px;background:linear-gradient(90deg,#cedea7,#cbdba3 30%,#bccd90);"><i class="d">$</i><i class="m">-</i></div>
<div class="c b" style="left:941px;top:642px;width:99px;height:19px;background:#C6EFCE;color:#006100">171</div>
<div class="c b" style="left:1041px;top:642px;width:95px;height:19px;background:#FCCBA0;">180</div>
<div class="c" style="left:1137px;top:642px;width:60px;height:19px;background:#14C060;color:#1C6670">Buy</div>
<div class="c b tk" style="left:1198px;top:642px;width:49px;height:19px;background:#0B2670;color:#FFFF33">VWO</div>
<div class="c b" style="left:1248px;top:642px;width:99px;height:19px;background:#C6EFCE;color:#006100">0</div>
<div class="a b" style="left:1348px;top:642px;width:92px;height:19px;background:#C6EFCE;color:#006100"><i class="d">$</i><i class="n">9,248.40</i></div>
<div class="c b" style="left:1441px;top:642px;width:58px;height:19px;background:#C6EFCE;color:#006100">5.2%</div>
<div class="c b" style="left:1500px;top:642px;width:58px;height:19px;background:#10A54A;color:#E6FF40">0.2%</div>
<div class="a b" style="left:1559px;top:642px;width:98px;height:19px;background:#FFEBB0;color:#1E6414"><i class="d">$</i><i class="n">9,248.40</i></div>
<div class="a b" style="left:1658px;top:642px;width:107px;height:19px;background:#FFEBB0;color:#1E6414"><i class="d">$</i><i class="n">679.50</i></div>
<div style="left:6px;top:662px;width:63px;height:4px;background:#F2F2F2;"></div>
<div style="left:70px;top:662px;width:50px;height:4px;background:#C8C8C8;"></div>
<div style="left:121px;top:662px;width:71px;height:4px;background:#DAEEF3;"></div>
<div style="left:193px;top:662px;width:72px;height:4px;background:#DAEEF3;"></div>
<div style="left:268px;top:662px;width:81px;height:4px;background:#DAEEF3;"></div>
<div style="left:350px;top:662px;width:71px;height:4px;background:#FFE085;"></div>
<div style="left:422px;top:662px;width:71px;height:4px;background:#FFE085;"></div>
<div style="left:494px;top:662px;width:75px;height:4px;background:#FFE085;"></div>
<div style="left:570px;top:662px;width:72px;height:4px;background:#FFE085;"></div>
<div style="left:645px;top:662px;width:107px;height:4px;background:linear-gradient(90deg,#bbcc8e,#cbdba3 70%,#cedea7);"></div>
<div style="left:753px;top:662px;width:100px;height:4px;background:#C6EFCE;"></div>
<div style="left:854px;top:662px;width:85px;height:4px;background:linear-gradient(90deg,#cedea7,#cbdba3 30%,#bccd90);"></div>
<div style="left:941px;top:662px;width:99px;height:4px;background:#C6EFCE;"></div>
<div style="left:1041px;top:662px;width:95px;height:4px;background:#FCCBA0;"></div>
<div style="left:1137px;top:662px;width:60px;height:4px;background:#FCCBA0;"></div>
<div style="left:1198px;top:662px;width:49px;height:4px;background:#D9D9D9;"></div>
<div style="left:1248px;top:662px;width:99px;height:4px;background:#14A046;"></div>
<div style="left:1348px;top:662px;width:92px;height:4px;background:#C6EFCE;"></div>
<div style="left:1441px;top:662px;width:58px;height:4px;background:#C6EFCE;"></div>
<div style="left:1500px;top:662px;width:57px;height:4px;background:#C6EFCE;"></div>
<div style="left:1559px;top:662px;width:98px;height:4px;background:#FFEBB0;"></div>
<div style="left:1658px;top:662px;width:107px;height:4px;background:#FFEBB0;"></div>
<div class="l" style="left:69px;top:304px;width:1px;height:62px;background:#000"></div>
<div class="l" style="left:69px;top:374px;width:1px;height:39px;background:#000"></div>
<div class="l" style="left:69px;top:421px;width:1px;height:245px;background:#000"></div>
<div class="l" style="left:120px;top:304px;width:1px;height:62px;background:#000"></div>
<div class="l" style="left:120px;top:374px;width:1px;height:39px;background:#000"></div>
<div class="l" style="left:120px;top:421px;width:1px;height:245px;background:#000"></div>
<div class="l" style="left:192px;top:304px;width:1px;height:62px;background:#000"></div>
<div class="l" style="left:192px;top:374px;width:1px;height:39px;background:#000"></div>
<div class="l" style="left:192px;top:421px;width:1px;height:245px;background:#000"></div>
<div class="l" style="left:349px;top:304px;width:1px;height:62px;background:#000"></div>
<div class="l" style="left:349px;top:421px;width:1px;height:245px;background:#000"></div>
<div class="l" style="left:421px;top:304px;width:1px;height:62px;background:#000"></div>
<div class="l" style="left:421px;top:421px;width:1px;height:245px;background:#000"></div>
<div class="l" style="left:493px;top:304px;width:1px;height:62px;background:#000"></div>
<div class="l" style="left:493px;top:421px;width:1px;height:245px;background:#000"></div>
<div class="l" style="left:569px;top:304px;width:1px;height:62px;background:#000"></div>
<div class="l" style="left:569px;top:421px;width:1px;height:245px;background:#000"></div>
<div class="l" style="left:752px;top:304px;width:1px;height:62px;background:#000"></div>
<div class="l" style="left:752px;top:421px;width:1px;height:245px;background:#000"></div>
<div class="l" style="left:853px;top:304px;width:1px;height:62px;background:#000"></div>
<div class="l" style="left:853px;top:421px;width:1px;height:245px;background:#000"></div>
<div class="l" style="left:1040px;top:304px;width:1px;height:62px;background:#000"></div>
<div class="l" style="left:1040px;top:374px;width:1px;height:39px;background:#000"></div>
<div class="l" style="left:1040px;top:421px;width:1px;height:245px;background:#000"></div>
<div class="l" style="left:1136px;top:304px;width:1px;height:62px;background:#000"></div>
<div class="l" style="left:1136px;top:374px;width:1px;height:39px;background:#000"></div>
<div class="l" style="left:1136px;top:421px;width:1px;height:245px;background:#000"></div>
<div class="l" style="left:1197px;top:304px;width:1px;height:62px;background:#000"></div>
<div class="l" style="left:1197px;top:374px;width:1px;height:39px;background:#000"></div>
<div class="l" style="left:1197px;top:421px;width:1px;height:245px;background:#000"></div>
<div class="l" style="left:1247px;top:304px;width:1px;height:62px;background:#000"></div>
<div class="l" style="left:1247px;top:374px;width:1px;height:39px;background:#000"></div>
<div class="l" style="left:1247px;top:421px;width:1px;height:245px;background:#000"></div>
<div class="l" style="left:1347px;top:304px;width:1px;height:62px;background:#000"></div>
<div class="l" style="left:1347px;top:374px;width:1px;height:39px;background:#000"></div>
<div class="l" style="left:1347px;top:421px;width:1px;height:245px;background:#000"></div>
<div class="l" style="left:1440px;top:304px;width:1px;height:62px;background:#000"></div>
<div class="l" style="left:1440px;top:374px;width:1px;height:39px;background:#000"></div>
<div class="l" style="left:1440px;top:421px;width:1px;height:245px;background:#000"></div>
<div class="l" style="left:1499px;top:304px;width:1px;height:62px;background:#000"></div>
<div class="l" style="left:1499px;top:374px;width:1px;height:39px;background:#000"></div>
<div class="l" style="left:1499px;top:421px;width:1px;height:245px;background:#000"></div>
<div class="l" style="left:1657px;top:304px;width:1px;height:62px;background:#000"></div>
<div class="l" style="left:1657px;top:374px;width:1px;height:39px;background:#000"></div>
<div class="l" style="left:1657px;top:421px;width:1px;height:245px;background:#000"></div>
<div class="l" style="left:6px;top:421px;width:1759px;height:1px;background:#000"></div>
<div class="l" style="left:6px;top:441px;width:1759px;height:1px;background:#000"></div>
<div class="l" style="left:6px;top:461px;width:1759px;height:1px;background:#000"></div>
<div class="l" style="left:6px;top:481px;width:1759px;height:1px;background:#000"></div>
<div class="l" style="left:6px;top:501px;width:1759px;height:1px;background:#000"></div>
<div class="l" style="left:6px;top:521px;width:1759px;height:1px;background:#000"></div>
<div class="l" style="left:6px;top:541px;width:1759px;height:1px;background:#000"></div>
<div class="l" style="left:6px;top:561px;width:1759px;height:1px;background:#000"></div>
<div class="l" style="left:6px;top:581px;width:1759px;height:1px;background:#000"></div>
<div class="l" style="left:6px;top:601px;width:1759px;height:1px;background:#000"></div>
<div class="l" style="left:6px;top:621px;width:1759px;height:1px;background:#000"></div>
<div class="l" style="left:6px;top:641px;width:1759px;height:1px;background:#000"></div>
<div class="l" style="left:6px;top:661px;width:1759px;height:1px;background:#000"></div>
<div class="l" style="left:6px;top:441px;width:63px;height:1px;background:#4A6DB0"></div>
<div class="l" style="left:1198px;top:441px;width:49px;height:1px;background:#4A6DB0"></div>
<div class="l" style="left:6px;top:461px;width:63px;height:1px;background:#4A6DB0"></div>
<div class="l" style="left:1198px;top:461px;width:49px;height:1px;background:#4A6DB0"></div>
<div class="l" style="left:6px;top:481px;width:63px;height:1px;background:#4A6DB0"></div>
<div class="l" style="left:1198px;top:481px;width:49px;height:1px;background:#4A6DB0"></div>
<div class="l" style="left:6px;top:501px;width:63px;height:1px;background:#4A6DB0"></div>
<div class="l" style="left:1198px;top:501px;width:49px;height:1px;background:#4A6DB0"></div>
<div class="l" style="left:6px;top:521px;width:63px;height:1px;background:#4A6DB0"></div>
<div class="l" style="left:1198px;top:521px;width:49px;height:1px;background:#4A6DB0"></div>
<div class="l" style="left:6px;top:541px;width:63px;height:1px;background:#4A6DB0"></div>
<div class="l" style="left:1198px;top:541px;width:49px;height:1px;background:#4A6DB0"></div>
<div class="l" style="left:6px;top:561px;width:63px;height:1px;background:#4A6DB0"></div>
<div class="l" style="left:1198px;top:561px;width:49px;height:1px;background:#4A6DB0"></div>
<div class="l" style="left:6px;top:581px;width:63px;height:1px;background:#4A6DB0"></div>
<div class="l" style="left:1198px;top:581px;width:49px;height:1px;background:#4A6DB0"></div>
<div class="l" style="left:6px;top:601px;width:63px;height:1px;background:#4A6DB0"></div>
<div class="l" style="left:1198px;top:601px;width:49px;height:1px;background:#4A6DB0"></div>
<div class="l" style="left:6px;top:621px;width:63px;height:1px;background:#4A6DB0"></div>
<div class="l" style="left:1198px;top:621px;width:49px;height:1px;background:#4A6DB0"></div>
<div class="l" style="left:6px;top:641px;width:63px;height:1px;background:#4A6DB0"></div>
<div class="l" style="left:1198px;top:641px;width:49px;height:1px;background:#4A6DB0"></div>
<div class="l" style="left:6px;top:661px;width:63px;height:1px;background:#4A6DB0"></div>
<div class="l" style="left:1198px;top:661px;width:49px;height:1px;background:#4A6DB0"></div>
<div class="l" style="left:1247px;top:422px;width:1px;height:244px;background:#0B2670"></div>
<div class="l" style="left:1197px;top:416px;width:1px;height:5px;background:#000"></div>
<div class="l" style="left:1247px;top:416px;width:1px;height:5px;background:#000"></div>
<div class="l" style="left:6px;top:421px;width:63px;height:1px;background:#C4D79B"></div>
<div class="l" style="left:1198px;top:421px;width:49px;height:1px;background:#C4D79B"></div>
<div class="l" style="left:268px;top:303px;width:1290px;height:1px;background:#000"></div>
<div class="l" style="left:6px;top:365px;width:1759px;height:1px;background:#000"></div>
<div class="l" style="left:6px;top:393px;width:344px;height:1px;background:#000"></div>
<div class="l" style="left:854px;top:393px;width:645px;height:1px;background:#000"></div>
<div style="left:1500px;top:393px;width:57px;height:1px;background:#C6EFCE;"></div>
<div class="l" style="left:1559px;top:393px;width:206px;height:1px;background:#000"></div>
<div style="left:1137px;top:393px;width:60px;height:1px;background:#FCCBA0;"></div>
<div class="l" style="left:6px;top:371px;width:934px;height:3px;background:#E8861A"></div>
<div class="l" style="left:1041px;top:371px;width:458px;height:3px;background:#E8861A"></div>
<div class="l" style="left:1559px;top:371px;width:210px;height:3px;background:#E8861A"></div>
<div class="l" style="left:6px;top:413px;width:1494px;height:3px;background:#E8861A"></div>
<div class="l" style="left:1559px;top:413px;width:210px;height:3px;background:#E8861A"></div>
<div class="l" style="left:1441px;top:392px;width:58px;height:3px;background:#E8861A"></div>
<div class="l" style="left:3px;top:302px;width:3px;height:364px;background:#000"></div>
<div class="l" style="left:3px;top:302px;width:265px;height:3px;background:#000"></div>
<div class="l" style="left:265px;top:276px;width:3px;height:390px;background:#000"></div>
<div class="l" style="left:265px;top:276px;width:677px;height:3px;background:#000"></div>
<div class="l" style="left:940px;top:276px;width:619px;height:2px;background:#000"></div>
<div class="l" style="left:642px;top:276px;width:3px;height:98px;background:#000"></div>
<div class="l" style="left:642px;top:416px;width:3px;height:250px;background:#000"></div>
<div class="l" style="left:939px;top:276px;width:2px;height:390px;background:#000"></div>
<div class="l" style="left:1557px;top:276px;width:2px;height:146px;background:#000"></div>
<div class="l" style="left:1558px;top:421px;width:1px;height:245px;background:#000"></div>
<div class="l" style="left:1557px;top:302px;width:210px;height:2px;background:#000"></div>
<div class="l" style="left:1765px;top:302px;width:2px;height:364px;background:#000"></div>
<div class="l" style="left:349px;top:374px;width:2px;height:39px;background:#000"></div>
<div class="l" style="left:853px;top:374px;width:1px;height:39px;background:#000"></div>
<div class="l" style="left:1498px;top:373px;width:2px;height:40px;background:#000"></div>
</body></html>
